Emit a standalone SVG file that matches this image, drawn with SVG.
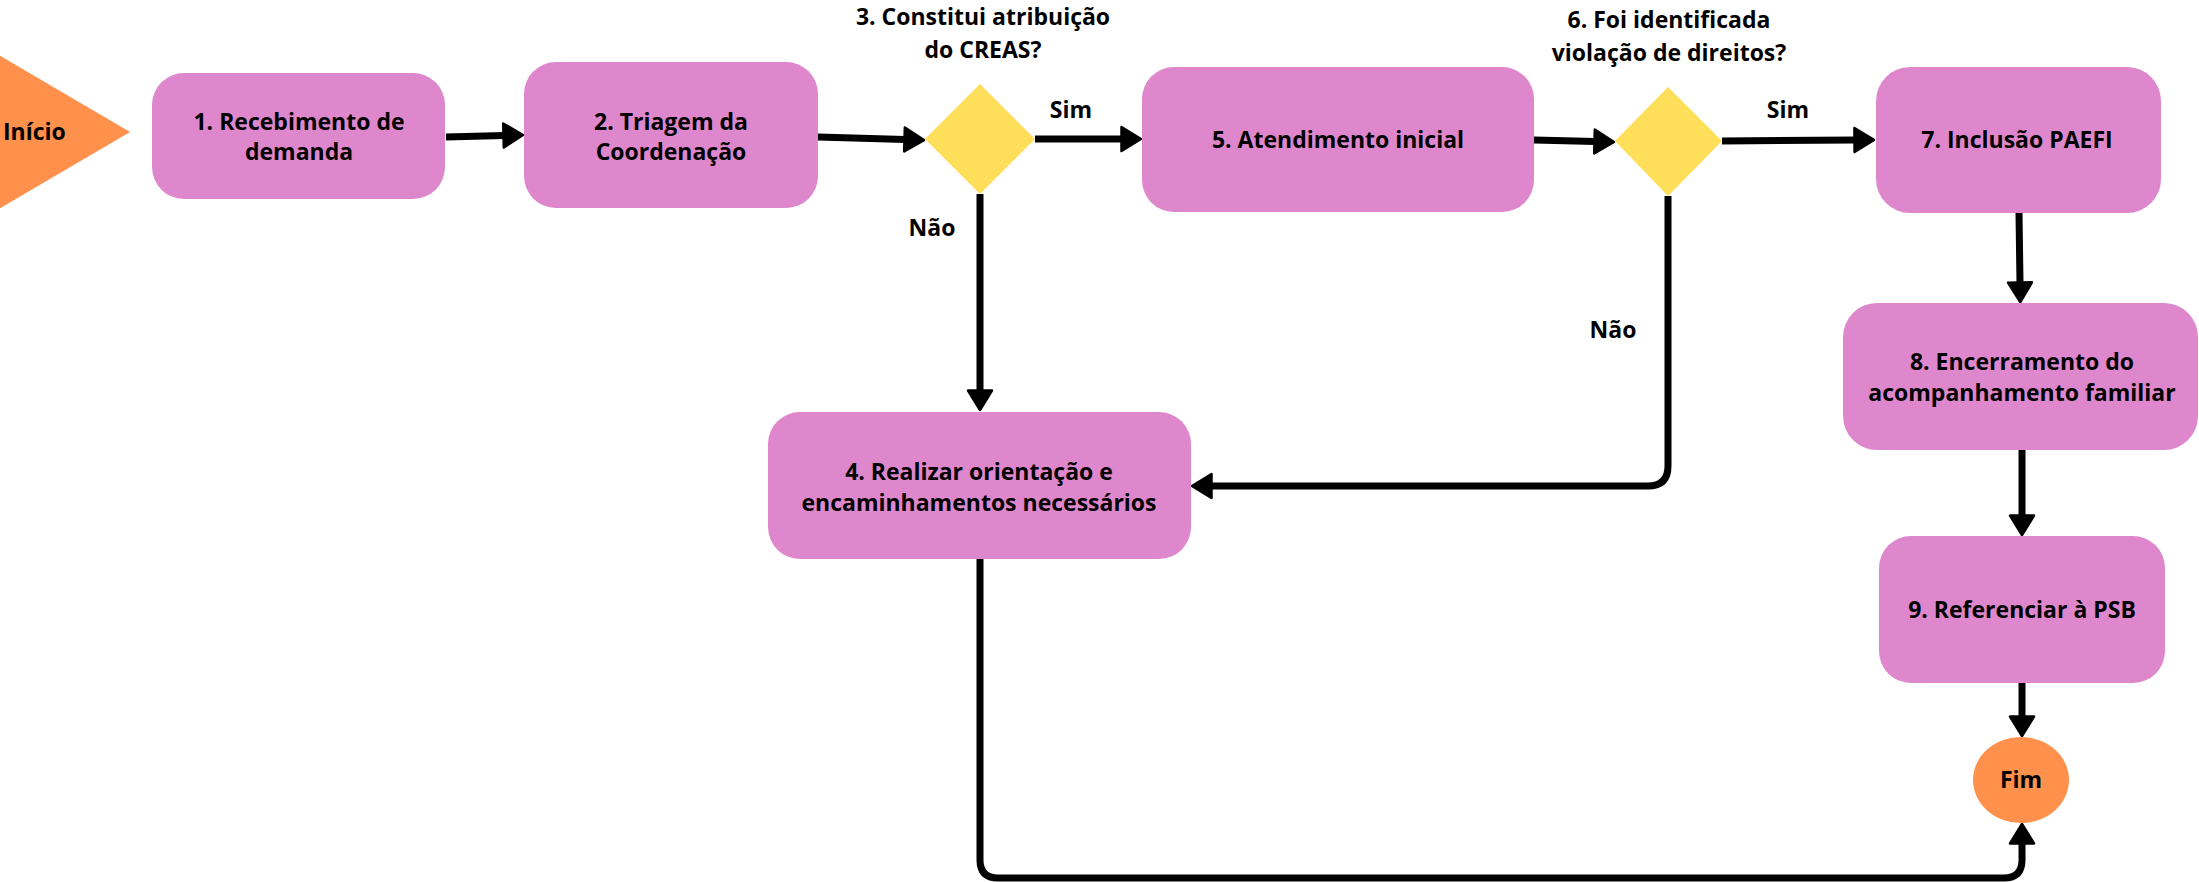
<svg xmlns="http://www.w3.org/2000/svg" width="2199" height="882" viewBox="0 0 2199 882">
<defs>
<style>
.box{fill:#DF87CC}
.dia{fill:#FFDE59}
.term{fill:#FF914D}
.t{font-family:"Open Sans","Liberation Sans",sans-serif;font-weight:bold;font-size:23px;fill:#000;text-anchor:middle}
.c{fill:none;stroke:#000;stroke-width:7;marker-end:url(#ah)}
</style>
<marker id="ah" viewBox="0 -14 23 28" markerWidth="23" markerHeight="28" refX="2" refY="0" orient="auto" markerUnits="userSpaceOnUse">
<path d="M1.5,-12 L21,0 L1.5,12 Z" fill="#000" stroke="#000" stroke-width="2.5" stroke-linejoin="round"/>
</marker>
</defs>
<rect width="2199" height="882" fill="#fff"/>
<g id="connectors">
<path class="c" d="M446,137 L504,135.5"/>
<path class="c" d="M818,137 L905,139.5"/>
<path class="c" d="M1035,139 L1122,139"/>
<path class="c" d="M1534,140 L1595,141.5"/>
<path class="c" d="M1722,141 L1855,140"/>
<path class="c" d="M2019,213 L2020,283"/>
<path class="c" d="M980,194 L980,391"/>
<path class="c" d="M1668,196 V466 Q1668,486 1648,486 H1211"/>
<path class="c" d="M980,559 V860 Q980,878 998,878 H2004 Q2022,878 2022,860 V843"/>
<path class="c" d="M2022,450 L2022,516"/>
<path class="c" d="M2022,683 L2022,717"/>
</g>
<g id="inicio">
<polygon class="term" points="-10,50 130,132 -10,214"/>
<text class="t" x="3" y="140" style="text-anchor:start">Início</text>
</g>
<g id="n1">
<rect class="box" x="152" y="73" width="293" height="126" rx="32"/>
<text class="t" x="299" y="130">1. Recebimento de</text>
<text class="t" x="299" y="160">demanda</text>
</g>
<g id="n2">
<rect class="box" x="524" y="62" width="294" height="146" rx="32"/>
<text class="t" x="671" y="130">2. Triagem da</text>
<text class="t" x="671" y="160">Coordenação</text>
</g>
<g id="d3">
<polygon class="dia" points="980,84 1035,139 980,194 925,139"/>
<text class="t" x="983" y="25">3. Constitui atribuição</text>
<text class="t" x="983" y="58">do CREAS?</text>
<text class="t" x="1071" y="118">Sim</text>
<text class="t" x="932" y="236">Não</text>
</g>
<g id="n5">
<rect class="box" x="1142" y="67" width="392" height="145" rx="32"/>
<text class="t" x="1338" y="148">5. Atendimento inicial</text>
</g>
<g id="d6">
<polygon class="dia" points="1668,87 1722,141 1668,196 1615,141"/>
<text class="t" x="1669" y="28">6. Foi identificada</text>
<text class="t" x="1669" y="61">violação de direitos?</text>
<text class="t" x="1788" y="118">Sim</text>
<text class="t" x="1613" y="338">Não</text>
</g>
<g id="n7">
<rect class="box" x="1876" y="67" width="285" height="146" rx="34"/>
<text class="t" x="2017" y="148">7. Inclusão PAEFI</text>
</g>
<g id="n8">
<rect class="box" x="1843" y="303" width="355" height="147" rx="34"/>
<text class="t" x="2022" y="370">8. Encerramento do</text>
<text class="t" x="2022" y="401">acompanhamento familiar</text>
</g>
<g id="n4">
<rect class="box" x="768" y="412" width="423" height="147" rx="32"/>
<text class="t" x="979" y="480">4. Realizar orientação e</text>
<text class="t" x="979" y="511">encaminhamentos necessários</text>
</g>
<g id="n9">
<rect class="box" x="1879" y="536" width="286" height="147" rx="32"/>
<text class="t" x="2022" y="618">9. Referenciar à PSB</text>
</g>
<g id="fim">
<ellipse class="term" cx="2021" cy="780" rx="48" ry="43"/>
<text class="t" x="2021" y="788">Fim</text>
</g>
</svg>
